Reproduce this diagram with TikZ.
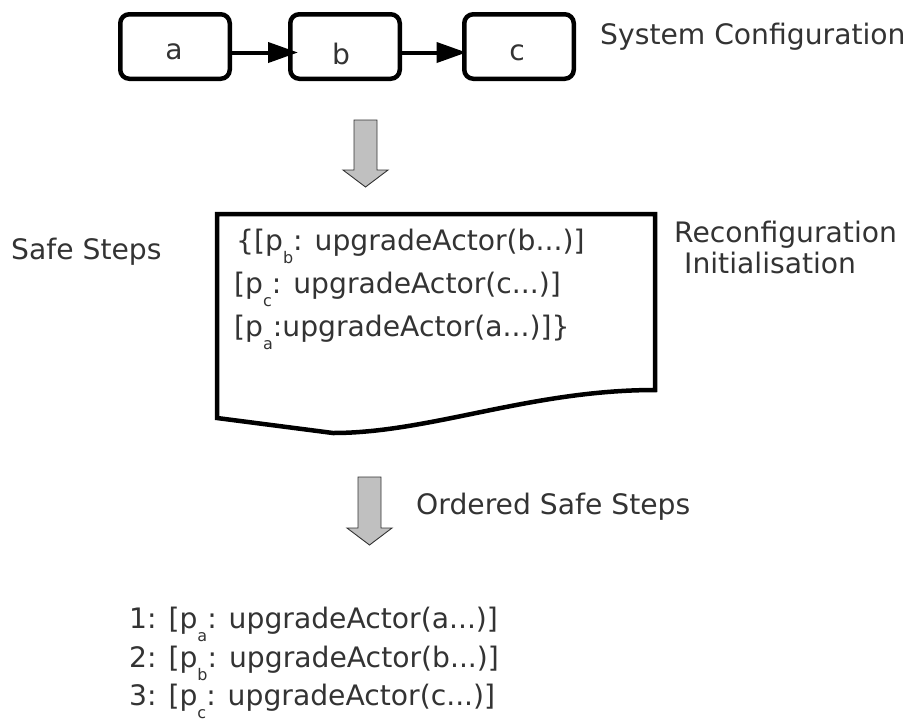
\documentclass[tikz,border=0pt]{standalone}
\usepackage{fontspec}
\setmainfont{DejaVu Sans}
\usetikzlibrary{arrows.meta}
\definecolor{ink}{HTML}{333333}
\definecolor{bigarrow}{HTML}{C0C0C0}
% lowered small index, as in p_a
\newcommand{\idx}[1]{\raisebox{-13pt}{\fontsize{16}{16}\selectfont #1}}
\begin{document}
\begin{tikzpicture}[x=1pt,y=-1pt,
  actor/.style={draw=black, line width=4.5pt, rounded corners=9pt,
    minimum width=109.5pt, minimum height=64.5pt, inner sep=0pt},
  label/.style={font=\fontsize{28.2}{28.2}\selectfont, text=ink, inner sep=0pt, anchor=base west},
  boxlabel/.style={font=\fontsize{28.2}{28.2}\selectfont, text=ink, inner sep=0pt, anchor=base},
  flow/.style={line width=4pt, -{Triangle[length=30pt,width=20pt]}},
  hollow/.style={fill=bigarrow, draw=ink, line width=0.9pt, line join=miter},
  docshape/.style={draw=black, line width=4.5pt, line join=miter}]
\useasboundingbox (0,0) rectangle (909,726);

% system configuration: three actors in a chain
\node[actor] (a) at (175,46.5) {};
\node[actor] (b) at (345,46.5) {};
\node[actor] (c) at (519,46.5) {};
\node[boxlabel] (la) at (174,59) {a};
\node[boxlabel] (lb) at (341,64) {b};
\node[boxlabel] (lc) at (517,60) {c};
\draw[flow] ([yshift=-6pt]a.east) -- ([yshift=-6pt,xshift=10pt]b.west);
\draw[flow] ([yshift=-6pt]b.east) -- ([yshift=-6pt,xshift=4.5pt]c.west);
\node[label] (sys) at (600,44.5) {System Configuration};

% first block arrow
\draw[hollow] (354,120) -- (377,120) -- (377,170) -- (388,170) -- (365.5,187)
  -- (343,170) -- (354,170) -- cycle;

% document with the safe steps
\draw[docshape] (217,214) -- (655,214) -- (655,390)
  .. controls (530,390) and (430,433) .. (333,433) -- (217,418) -- cycle;
\node[label] (s1) at (236,250) {\{[p\idx{b}: upgradeActor(b...)]};
\node[label] (s2) at (234,293) {[p\idx{c}: upgradeActor(c...)]};
\node[label] (s3) at (234,336) {[p\idx{a}:upgradeActor(a...)]\}};
\node[label] (safe) at (11,259) {Safe Steps};
\node[label] (reconf) at (674,242) {Reconfiguration};
\node[label] (init) at (684,273) {Initialisation};

% second block arrow
\draw[hollow] (358,477) -- (381,477) -- (381,528) -- (392,528) -- (369.5,545)
  -- (347,528) -- (358,528) -- cycle;
\node[label] (ordered) at (416,514) {Ordered Safe Steps};

% ordered list of steps
\node[label] (o1) at (129,628) {1: [p\idx{a}: upgradeActor(a...)]};
\node[label] (o2) at (129,667) {2: [p\idx{b}: upgradeActor(b...)]};
\node[label] (o3) at (129,705) {3: [p\idx{c}: upgradeActor(c...)]};
\end{tikzpicture}
\end{document}
